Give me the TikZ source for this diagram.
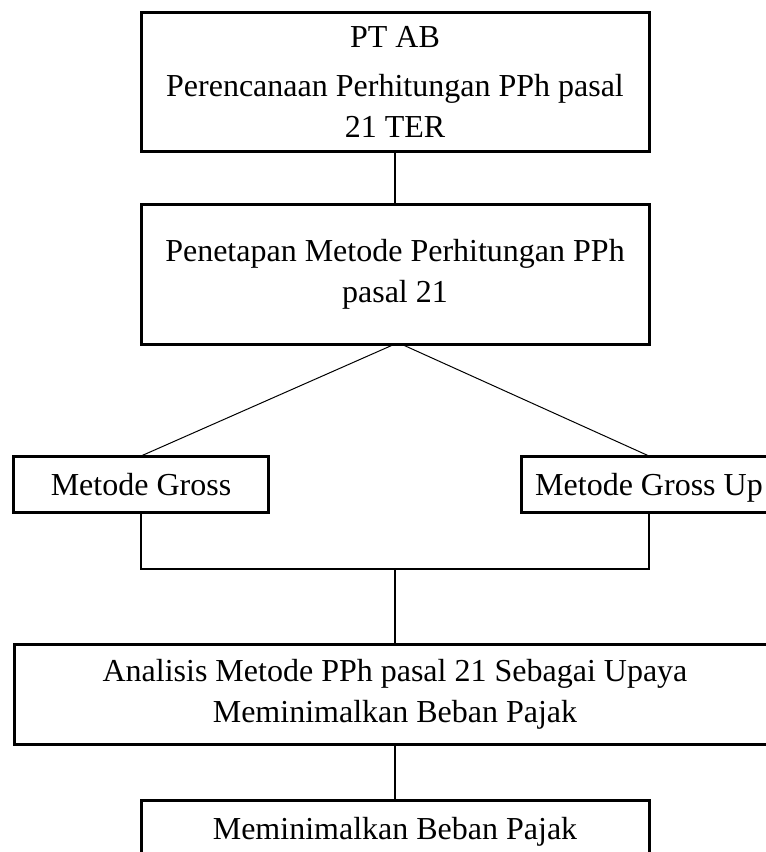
\documentclass[tikz,border=0pt]{standalone}
\usepackage{fontspec}
\setmainfont{Liberation Serif}
\usetikzlibrary{positioning,calc}

\begin{document}
\begin{tikzpicture}[
  font=\fontsize{32}{41}\selectfont,
  box/.style={draw, line width=3pt, align=center, outer sep=0pt, inner sep=0pt, minimum width=508pt, minimum height=140pt},
  method/.style={box, text depth=0pt, minimum width=255pt, minimum height=56pt},
  widebox/.style={box, minimum width=762pt, minimum height=100pt},
  link/.style={line width=1.5pt},
  split/.style={line width=1pt}
]
\useasboundingbox (0,0) rectangle (766pt,-852pt);
\node[box, minimum height=139pt] (ptab) at (395pt,-81.5pt) {PT AB\\[8pt]Perencanaan Perhitungan PPh pasal\\21 TER};
\node[box, below=53pt of ptab] (metode) {Penetapan Metode Perhitungan PPh\\pasal 21};
\node[method, below=112pt of metode.south west] (gross) {Metode Gross};
\node[method, below=112pt of metode.south east] (grossup) {Metode Gross Up};
\node[widebox, below=300pt of metode] (analisis) {Analisis Metode PPh pasal 21 Sebagai Upaya\\Meminimalkan Beban Pajak};
\node[method, minimum width=508pt, below=56pt of analisis] (hasil) {Meminimalkan Beban Pajak};
\coordinate (join) at ($(analisis.north)+(0,75pt)$);

\draw[link] (ptab) -- (metode);
\draw[split] (metode.south) -- (gross.north);
\draw[split] ([xshift=6pt]metode.south) -- (grossup.north);
\draw[link] (gross.south) |- (join) -| (grossup.south);
\draw[link] (join) -- (analisis);
\draw[link] (analisis) -- (hasil);
\end{tikzpicture}
\end{document}
